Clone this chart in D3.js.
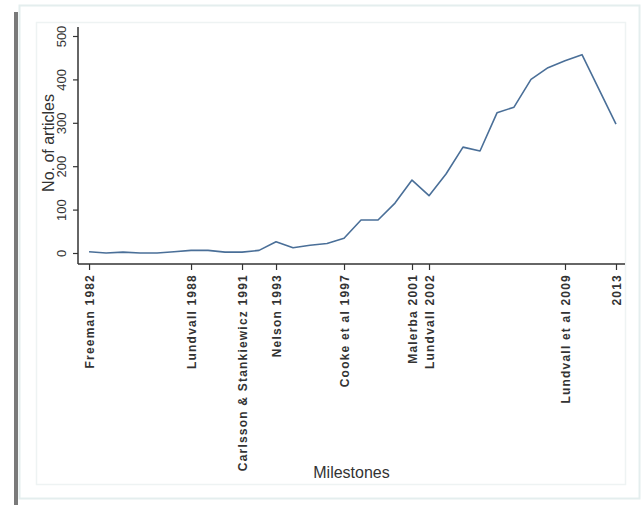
<!DOCTYPE html>
<html>
<head>
<meta charset="utf-8">
<script src="https://cdn.jsdelivr.net/npm/d3@7"></script>
<style>
  html, body { margin: 0; padding: 0; background: #fff; }
  svg { display: block; }
</style>
</head>
<body>
<svg id="chart" width="643" height="505"></svg>
<script>
// ---- data ----
const years = [1982,1983,1984,1985,1986,1987,1988,1989,1990,1991,1992,1993,1994,1995,1996,1997,
               1998,1999,2000,2001,2002,2003,2004,2005,2006,2007,2008,2009,2010,2011,2012,2013];
const articles = [3,0,2,0,0,3,6,6,2,2,6,26,12,18,22,34,
                  76,76,115,168,132,182,244,235,323,336,400,427,443,457,377,297];
const milestoneYears = [1982,1988,1991,1993,1997,2001,2002,2010,2013];
const milestoneLabels = ["Freeman 1982","Lundvall 1988","Carlsson & Stankiewicz 1991","Nelson 1993",
                         "Cooke et al 1997","Malerba 2001","Lundvall 2002","Lundvall et al 2009","2013"];
const yTicks = [0,100,200,300,400,500];
const yTitle = "No. of articles";
const xTitle = "Milestones";

// ---- drawing ----
const svg = d3.select("#chart");

// frames
svg.append("rect").attr("x",19.5).attr("y",5.5).attr("width",620).attr("height",493)
  .attr("fill","#fff").attr("stroke","#e4eeee").attr("stroke-width",2);
svg.append("rect").attr("x",14).attr("y",12).attr("width",4).attr("height",493).attr("fill","#7a7a7a");
svg.append("rect").attr("x",36.5).attr("y",22.5).attr("width",589).attr("height",462)
  .attr("fill","#fff").attr("stroke","#eef3f3").attr("stroke-width",1.5);

const x = d3.scaleLinear().domain([1981.35, 2013.53]).range([78, 625]);
const y = d3.scaleLinear().domain([0, 500]).range([253, 36]);
const axisColor = "#333";

// y axis
const yAxis = svg.append("g").attr("transform","translate(78,0)")
  .call(d3.axisLeft(y).tickValues(yTicks).tickSize(5).tickFormat(d3.format("d")));
yAxis.select(".domain").remove();
yAxis.selectAll(".tick line").attr("stroke",axisColor).attr("stroke-width",1.2);
yAxis.selectAll(".tick text")
  .attr("transform","rotate(-90)")
  .attr("x",0).attr("y",-12).attr("dy",0)
  .attr("text-anchor","middle")
  .attr("font-family","'Liberation Sans', Arial, sans-serif")
  .attr("font-size",13).attr("fill","#333");
svg.append("line").attr("x1",78).attr("x2",78).attr("y1",27).attr("y2",264)
  .attr("stroke",axisColor).attr("stroke-width",1.5);

// x axis
const xAxis = svg.append("g").attr("transform","translate(0,264)")
  .call(d3.axisBottom(x).tickValues(milestoneYears).tickSize(6)
        .tickFormat((d,i) => milestoneLabels[i]));
xAxis.select(".domain").remove();
xAxis.selectAll(".tick line").attr("stroke",axisColor).attr("stroke-width",1.2);
xAxis.selectAll(".tick text")
  .attr("transform","rotate(-90)")
  .attr("x",-10).attr("y",4.5).attr("dy",0)
  .attr("text-anchor","end")
  .attr("font-family","'Liberation Sans', Arial, sans-serif")
  .attr("font-size",12).attr("font-weight","bold")
  .attr("letter-spacing",1.2).attr("fill","#333");
svg.append("line").attr("x1",78).attr("x2",625).attr("y1",264).attr("y2",264)
  .attr("stroke",axisColor).attr("stroke-width",1.5);

// line
const line = d3.line().x((d,i) => x(years[i])).y(d => y(d));
svg.append("path").datum(articles).attr("d",line)
  .attr("fill","none").attr("stroke","#4a6f98").attr("stroke-width",1.6)
  .attr("stroke-linejoin","round");

// titles
svg.append("text").attr("transform","translate(54,143) rotate(-90)")
  .attr("text-anchor","middle")
  .attr("font-family","'Liberation Sans', Arial, sans-serif")
  .attr("font-size",16).attr("fill","#333").text(yTitle);
svg.append("text").attr("x",351.5).attr("y",478)
  .attr("text-anchor","middle")
  .attr("font-family","'Liberation Sans', Arial, sans-serif")
  .attr("font-size",16).attr("fill","#333").text(xTitle);
</script>
</body>
</html>
